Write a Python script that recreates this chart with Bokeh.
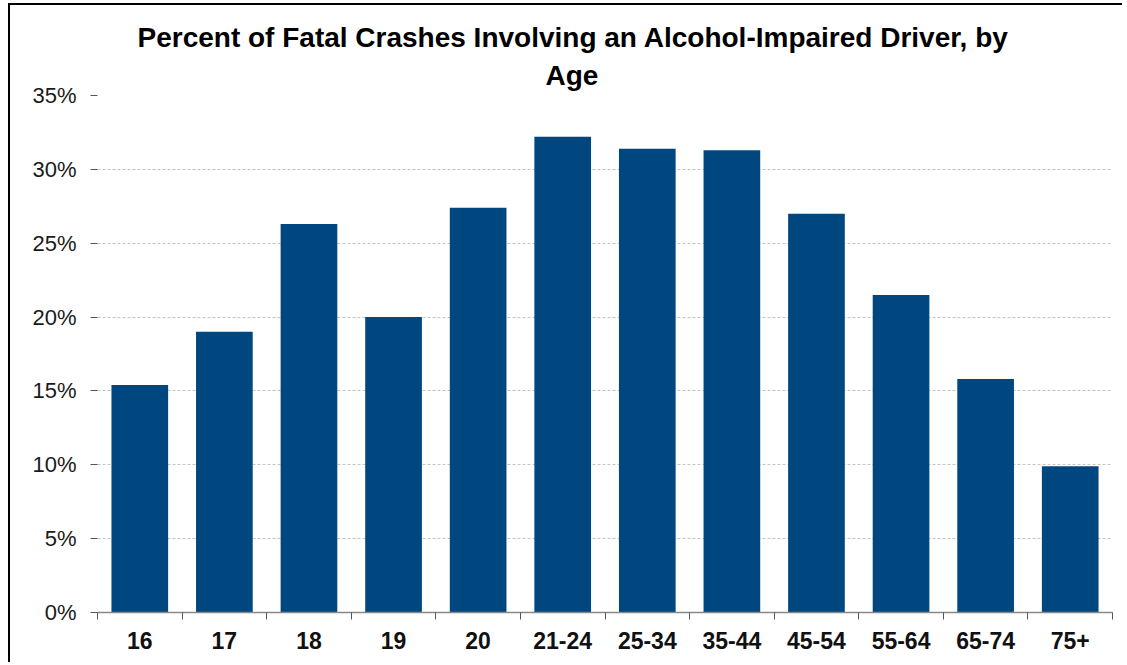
from bokeh.plotting import figure
from bokeh.models import FixedTicker, Title
from bokeh.embed import file_html
from bokeh.resources import INLINE

# ---- data ----
categories = ["16", "17", "18", "19", "20", "21-24", "25-34", "35-44", "45-54", "55-64", "65-74", "75+"]
percent = [15.4, 19.0, 26.3, 20.0, 27.4, 32.2, 31.4, 31.3, 27.0, 21.5, 15.8, 9.9]
y_ticks = [0, 5, 10, 15, 20, 25, 30, 35]
y_tick_labels = ["0%", "5%", "10%", "15%", "20%", "25%", "30%", "35%"]
title_line1 = "Percent of Fatal Crashes Involving an Alcohol-Impaired Driver, by"
title_line2 = "Age"

FONT = "Liberation Sans"
BAR = "#00467f"

xs = list(range(len(categories)))

p = figure(
    frame_width=1015, frame_height=517,
    x_range=(-0.5, len(categories) - 0.5), y_range=(0, 35),
    output_backend="svg", toolbar_location=None,
    min_border_left=87, min_border_right=14, min_border_top=90, min_border_bottom=50,
    background_fill_color="white", border_fill_color="white",
)
p.styles = {"border-top": "2px solid black", "border-left": "2px solid black",
            "margin-left": "8px", "margin-top": "3px",
            "clip-path": "inset(0px 4px 0px 0px)"}
p.outline_line_color = None

p.vbar(x=xs, top=percent, width=0.67, bottom=0, fill_color=BAR, line_color=None)

# y axis
yax = p.yaxis[0]
yax.ticker = FixedTicker(ticks=y_ticks)
yax.major_label_overrides = {t: l for t, l in zip(y_ticks, y_tick_labels)}
yax.axis_line_color = None
yax.major_tick_line_color = "#555555"
yax.major_tick_out = 7
yax.major_tick_in = 0
yax.minor_tick_line_color = None
yax.major_label_text_font = FONT
yax.major_label_text_font_size = "22px"
yax.major_label_text_color = "#1a1a1a"
yax.major_label_standoff = 14

# x axis: labels at centers, tick marks at boundaries
xax = p.xaxis[0]
xax.ticker = FixedTicker(ticks=xs, minor_ticks=[i - 0.5 for i in range(len(categories) + 1)])
xax.major_label_overrides = {i: c for i, c in zip(xs, categories)}
xax.axis_line_color = "#888888"
xax.axis_line_width = 1.5
xax.major_tick_line_color = None
xax.major_tick_out = 0
xax.major_tick_in = 0
xax.minor_tick_line_color = "#555555"
xax.minor_tick_out = 7
xax.minor_tick_in = 0
xax.major_label_text_font = FONT
xax.major_label_text_font_style = "bold"
xax.major_label_text_font_size = "23px"
xax.major_label_text_color = "#111111"
xax.major_label_standoff = 12

# grid
p.xgrid.grid_line_color = None
p.ygrid.ticker = FixedTicker(ticks=y_ticks[1:-1])
p.ygrid.grid_line_color = "#c4c4c4"
p.ygrid.grid_line_dash = "3 2"
p.ygrid.grid_line_width = 1

# two-line title (second line added first: it sits closest to the frame)
p.add_layout(Title(text=title_line2, align="left", offset=448, standoff=10,
                   text_font=FONT, text_font_style="bold", text_font_size="28px",
                   text_line_height=0.9, text_color="#000000"), "above")
p.add_layout(Title(text=title_line1, align="left", offset=40, standoff=0,
                   text_font=FONT, text_font_style="bold", text_font_size="28px",
                   text_color="#000000"), "above")

open("out.html", "w").write(file_html(p, INLINE))
